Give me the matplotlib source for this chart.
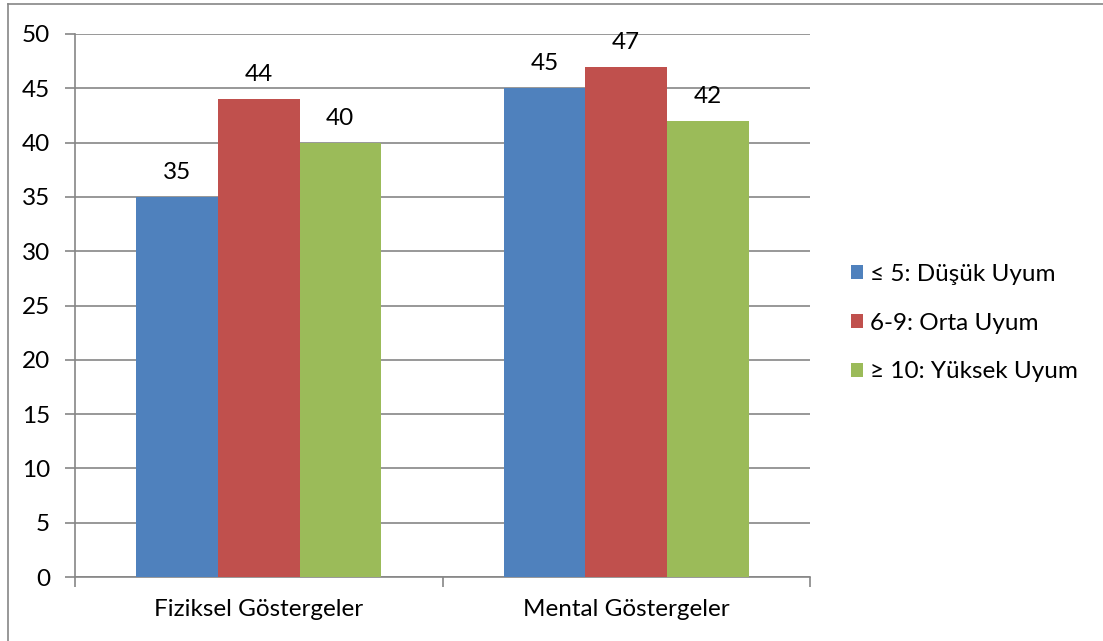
import matplotlib.pyplot as plt
from matplotlib.lines import Line2D
import numpy as np

plt.rcParams['font.family'] = ['Lato', 'DejaVu Sans']

categories = ["Fiziksel Göstergeler", "Mental Göstergeler"]
series_names = ["≤ 5: Düşük Uyum", "6-9: Orta Uyum", "≥ 10: Yüksek Uyum"]
low_values = [35, 45]
mid_values = [44, 47]
high_values = [40, 42]
colors = ["#4F81BD", "#C0504D", "#9BBB59"]

fig = plt.figure(figsize=(11.03, 6.41), dpi=100)
ax = fig.add_axes([75 / 1103, 64 / 641, 735 / 1103, 543 / 641])

fs = 17.5
x = np.arange(len(categories))
width = 0.222
all_values = [low_values, mid_values, high_values]
for i, (vals, name, col) in enumerate(zip(all_values, series_names, colors)):
    pos = x + (i - 1) * width
    bars = ax.bar(pos, vals, width, color=col, label=name, zorder=3)
    for b, v in zip(bars, vals):
        ax.annotate(str(v), (b.get_x() + b.get_width() / 2, v),
                    xytext=(0, 10), textcoords="offset points",
                    ha="center", va="bottom", fontsize=fs)

ax.set_xlim(-0.5, 1.5)
ax.set_ylim(0, 50)
ax.set_yticks(range(0, 51, 5))
ax.yaxis.grid(True, color="#868686", linewidth=1.2, zorder=0)
ax.set_axisbelow(True)

for s in ["top", "right"]:
    ax.spines[s].set_visible(False)
ax.spines["left"].set_color("#868686")
ax.spines["bottom"].set_color("#868686")
ax.spines["left"].set_linewidth(1.2)
ax.spines["bottom"].set_linewidth(1.2)

ax.set_xticks(x)
ax.set_xticklabels(categories, fontsize=fs)
ax.tick_params(axis="x", length=0, pad=16)
ax.set_xticks([-0.5, 0.5, 1.5], minor=True)
ax.tick_params(axis="x", which="minor", length=7, color="#868686", width=1.2)
ax.tick_params(axis="y", length=7, color="#868686", width=1.2, labelsize=fs, pad=11)

ax.legend(loc="center left", bbox_to_anchor=(851 / 1103, 318 / 641),
          bbox_transform=fig.transFigure, frameon=False, fontsize=fs,
          handlelength=0.5, handleheight=0.5, handletextpad=0.3,
          labelspacing=1.15, borderaxespad=0, borderpad=0)

# outer border (left and top only visible)
fig.add_artist(Line2D([8 / 1103, 8 / 1103], [0, 637 / 641], transform=fig.transFigure,
                      color="#868686", linewidth=1.2))
fig.add_artist(Line2D([8 / 1103, 1], [637 / 641, 637 / 641], transform=fig.transFigure,
                      color="#868686", linewidth=1.2))

fig.savefig("out.png", dpi=100)
